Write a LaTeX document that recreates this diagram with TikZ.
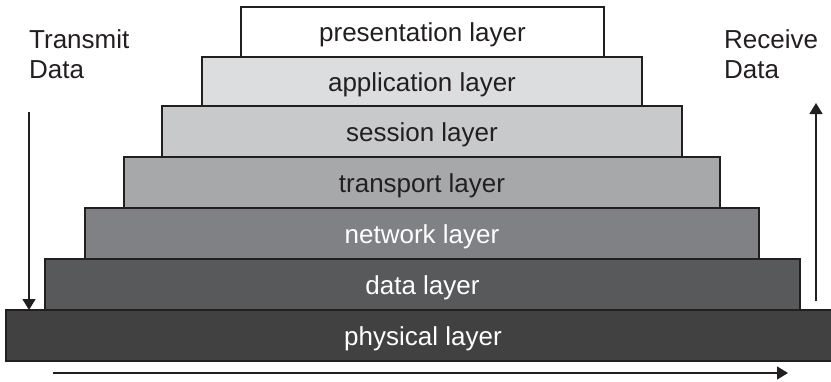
\documentclass[tikz,border=0pt]{standalone}
\usepackage{fontspec}
\setmainfont{Liberation Sans}
\usetikzlibrary{arrows.meta}
\definecolor{ink}{HTML}{231F20}
\definecolor{lyA}{HTML}{FFFFFF}
\definecolor{lyB}{HTML}{DCDDDE}
\definecolor{lyC}{HTML}{C8C9CA}
\definecolor{lyD}{HTML}{A7A8AA}
\definecolor{lyE}{HTML}{808184}
\definecolor{lyF}{HTML}{58595B}
\definecolor{lyG}{HTML}{414142}
\tikzset{
  layerbox/.style={draw=ink, line width=1.2pt, inner sep=0pt, outer sep=0pt,
    font=\fontsize{26}{30}\selectfont, text height=23pt, text depth=4pt},
  flow/.style={draw=ink, line width=1.4pt, -{Triangle[width=13pt,length=11pt]}},
  side/.style={font=\fontsize{26}{30}\selectfont, text=ink, align=left, inner sep=0pt, anchor=base west}
}
\begin{document}
\begin{tikzpicture}[x=1pt,y=-1pt]
\clip (0,0) rectangle (831,381);
\fill[white] (0,0) rectangle (831,381);

% the seven layers, widest at the bottom
\node[layerbox, fill=lyA, text=ink, minimum width=363pt, minimum height=50pt] (pres) at (422.5,32) {presentation layer};
\node[layerbox, fill=lyB, text=ink, minimum width=440pt, minimum height=49pt] (app) at (422,81.5) {application layer};
\node[layerbox, fill=lyC, text=ink, minimum width=520pt, minimum height=51pt] (sess) at (422,131.5) {session layer};
\node[layerbox, fill=lyD, text=ink, minimum width=596pt, minimum height=51pt] (trans) at (422,182.5) {transport layer};
\node[layerbox, fill=lyE, text=white, minimum width=674pt, minimum height=51pt] (net) at (422,233.5) {network layer};
\node[layerbox, fill=lyF, text=white, minimum width=755pt, minimum height=51pt] (data) at (422.5,284.5) {data layer};
\node[layerbox, fill=lyG, text=white, minimum width=834pt, minimum height=51pt] (phys) at (423,335.5) {physical layer};

% side captions (base anchor sits on the last line)
\node[side] (tx) at (29,78) {Transmit\\Data};
\node[side] (rx) at (724,78) {Receive\\Data};

\coordinate (txstart) at (29,112);
\coordinate (rxstart) at (816,301);
\coordinate (rxend) at (816,103);
\coordinate (bstart) at (53,373);
\coordinate (bend) at (788,373);

\draw[flow] (txstart) -- (txstart |- phys.north);
\draw[flow] (rxstart) -- (rxend);
\draw[flow] (bstart) -- (bend);
\end{tikzpicture}
\end{document}
